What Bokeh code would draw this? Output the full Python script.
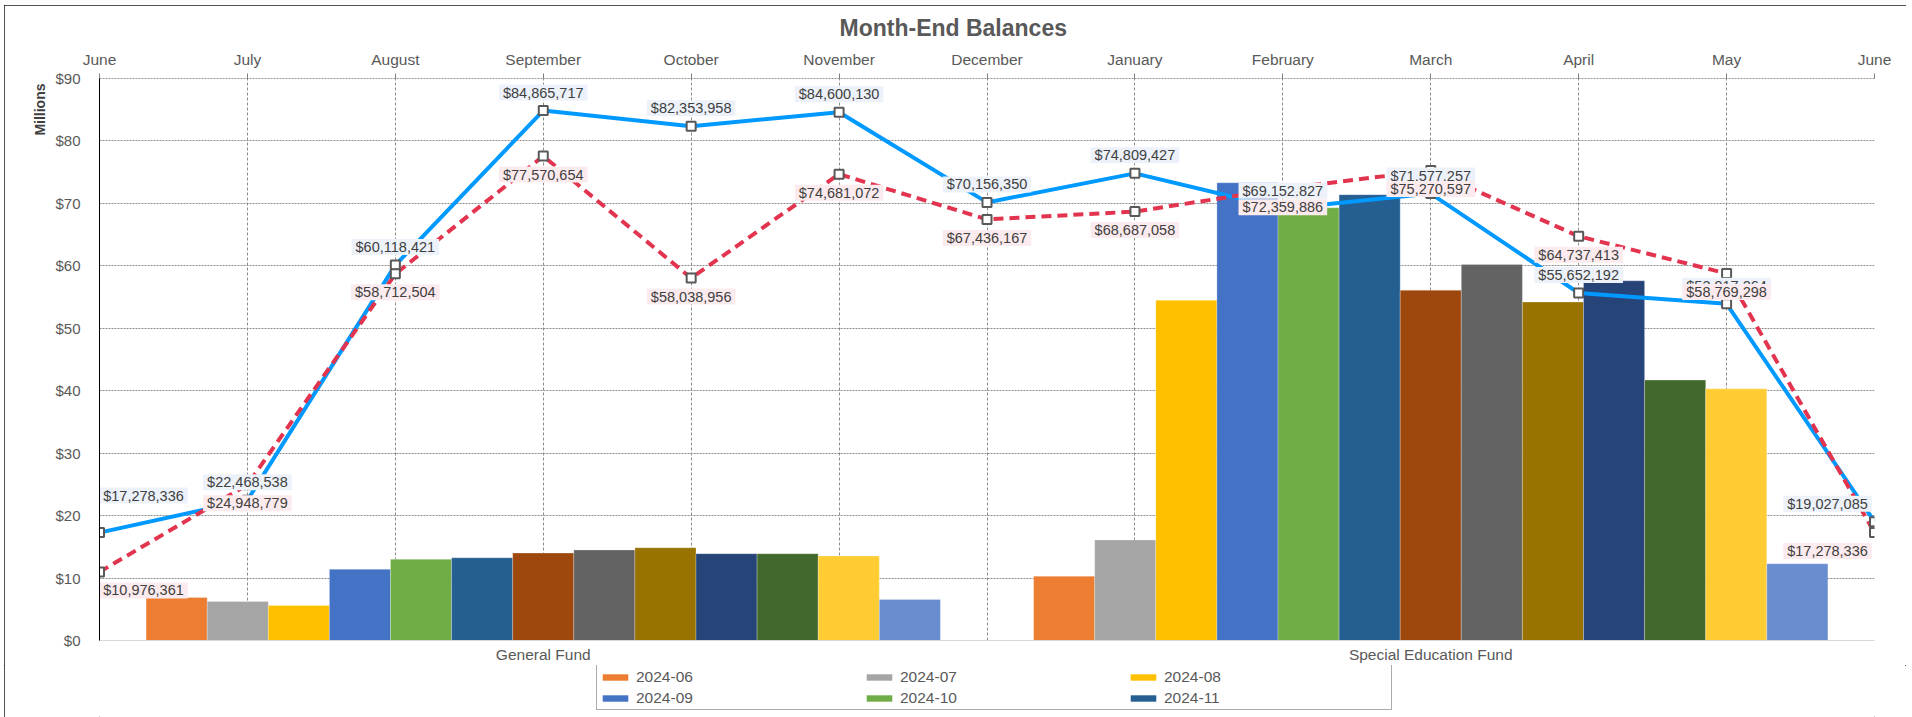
from bokeh.plotting import figure
from bokeh.layouts import column
from bokeh.models import (Range1d, LinearAxis, FixedTicker,
                          NumeralTickFormatter, ColumnDataSource, LabelSet, Legend,
                          LegendItem, Span, Title)
from bokeh.transform import dodge
from bokeh.embed import file_html
from bokeh.resources import INLINE
from bokeh.core.properties import value

# ---------------- data ----------------
months = ["June", "July", "August", "September", "October", "November", "December",
          "January", "February", "March", "April", "May", "June"]
funds = ["General Fund", "Special Education Fund"]
bar_months = ["2024-06", "2024-07", "2024-08", "2024-09", "2024-10", "2024-11", "2024-12",
              "2025-01", "2025-02", "2025-03", "2025-04", "2025-05", "2025-06"]
# month-end balances per fund, in $ millions
general_fund = [6.9, 6.25, 5.6, 11.4, 13.0, 13.25, 14.0, 14.5, 14.85, 13.9, 13.9, 13.55, 6.57]
special_ed = [10.3, 16.1, 54.5, 73.3, 69.3, 71.4, 56.1, 60.2, 54.2, 57.6, 41.7, 40.3, 12.3]

blue_balance = [17278336, 22468538, 60118421, 84865717, 82353958, 84600130, 70156350,
                74809427, 69152827, 71577257, 55652192, 53917264, 19027085]
red_balance = [10976361, 24948779, 58712504, 77570654, 58038956, 74681072, 67436167,
               68687058, 72359886, 75270597, 64737413, 58769298, 17278336]
blue_labels = ["$17,278,336", "$22,468,538", "$60,118,421", "$84,865,717", "$82,353,958",
               "$84,600,130", "$70,156,350", "$74,809,427", "$69.152.827", "$71,577,257",
               "$55,652,192", "$53,917,264", "$19,027,085"]
red_labels = ["$10,976,361", "$24,948,779", "$58,712,504", "$77,570,654", "$58,038,956",
              "$74,681,072", "$67,436,167", "$68,687,058", "$72,359,886", "$75,270,597",
              "$64,737,413", "$58,769,298", "$17,278,336"]
legend_months = bar_months[:6]

# ---------------- styles ----------------
FONT = "Liberation Sans"
GRAY = "#595959"
bar_colors = ["#ED7D31", "#A5A5A5", "#FFC000", "#4472C4", "#70AD47", "#255E91", "#9E480E",
              "#636363", "#997300", "#264478", "#43682B", "#FFCD33", "#698ED0"]
W = 1902

p = figure(width=W, height=660, output_backend="svg", toolbar_location=None,
           x_range=Range1d(0, 12), y_range=Range1d(0, 90), x_axis_location="above",
           min_border_left=95, min_border_right=32, min_border_top=73, min_border_bottom=25)
p.outline_line_color = None
p.background_fill_color = "white"

p.title.text = "Month-End Balances"
p.title.align = "left"
p.title.offset = 740
p.title.standoff = 13
p.title.text_font = FONT
p.title.text_font_size = "23px"
p.title.text_font_style = "bold"
p.title.text_color = GRAY

# top month axis
ax = p.xaxis[0]
ax.ticker = FixedTicker(ticks=list(range(len(months))))
ax.major_label_overrides = {i: m for i, m in enumerate(months)}
ax.axis_line_color = None
ax.major_tick_out = 5
ax.major_tick_in = 0
ax.major_tick_line_color = "#7f7f7f"
ax.minor_tick_line_color = None
ax.major_label_standoff = 6
ax.major_label_text_font = FONT
ax.major_label_text_font_size = "15.5px"
ax.major_label_text_color = GRAY

# left axis
ay = p.yaxis[0]
ay.ticker = FixedTicker(ticks=list(range(0, 91, 10)))
ay.formatter = NumeralTickFormatter(format="$0")
ay.axis_line_color = "black"
ay.major_tick_out = 0
ay.major_tick_in = 0
ay.minor_tick_line_color = None
ay.major_label_standoff = 19
ay.major_label_text_font = FONT
ay.major_label_text_font_size = "15px"
ay.major_label_text_color = GRAY

p.add_layout(Title(text="Millions", align="right", offset=5, text_font=FONT,
                   text_font_size="14px", text_font_style="bold", text_color="#404040"),
             "left")

p.xgrid.grid_line_color = "#8c8c8c"
p.xgrid.grid_line_dash = "3 2"
p.ygrid.grid_line_color = "#8c8c8c"
p.ygrid.grid_line_dash = "2 1"
p.add_layout(Span(location=90, dimension="width", line_color="#333333", line_dash="2 1",
                  line_width=1))

# fund axis (one unit per fund)
fund_pos = [i + 0.5 for i in range(len(funds))]
p.extra_x_ranges = {"funds": Range1d(0, len(funds))}
cax = LinearAxis(x_range_name="funds")
cax.ticker = FixedTicker(ticks=fund_pos)
cax.major_label_overrides = {fp: f for fp, f in zip(fund_pos, funds)}
cax.axis_line_color = "#d9d9d9"
cax.major_tick_out = 0
cax.major_tick_in = 0
cax.major_tick_line_color = None
cax.minor_tick_line_color = None
cax.major_label_standoff = 5
cax.major_label_text_font = FONT
cax.major_label_text_font_size = "15.5px"
cax.major_label_text_color = GRAY
p.add_layout(cax, "below")

# bars
bar_src = ColumnDataSource(dict(fund=fund_pos, **{m: [g, s] for m, g, s in
                                                  zip(bar_months, general_fund, special_ed)}))
n = len(bar_months)
bar_w = 0.895 / n
for i, m in enumerate(bar_months):
    p.vbar(x=dodge("fund", (i - (n - 1) / 2) * bar_w),
           top=m, width=bar_w, source=bar_src, x_range_name="funds",
           fill_color=bar_colors[i], line_color="white", line_alpha=0.5, line_width=0.5)

# lines
xs = list(range(len(months)))
blue_y = [v / 1e6 for v in blue_balance]
red_y = [v / 1e6 for v in red_balance]
edge_x = [0] * len(xs)
edge_x[0] = 44      # keep the edge labels inside the plotting frame
edge_x[-1] = -47
blue_src = ColumnDataSource(dict(x=xs, y=blue_y, label=blue_labels, xo=edge_x,
                                 yo=[-37] + [-18] * (len(xs) - 1)))
red_src = ColumnDataSource(dict(x=xs, y=red_y, label=red_labels, xo=edge_x,
                                yo=[18.5] * len(xs)))

p.line("x", "y", source=blue_src, line_color="#0099FF", line_width=4)
p.line("x", "y", source=red_src, line_color="#E3344F", line_width=4, line_dash="10 6")
for s in (blue_src, red_src):
    p.scatter("x", "y", source=s, marker="square", size=9, fill_color="white",
              line_color=GRAY, line_width=2)

for s, bg in ((blue_src, "#EDF2FA"), (red_src, "#FCEBEE")):
    common = dict(x="x", y="y", text="label", source=s, x_offset="xo", y_offset="yo",
                  text_align="center", text_baseline="middle", text_font=value(FONT),
                  text_font_size="14.5px", text_color="#404040")
    done = False
    for pad in (dict(left=4, right=4, top=0, bottom=0), 3):
        try:
            p.text(background_fill_color=bg, background_fill_alpha=1.0, padding=pad, **common)
            done = True
            break
        except Exception:
            pass
    if not done:
        c2 = dict(common)
        c2.pop("source")
        s2 = ColumnDataSource(dict(s.data))
        s2.data["yo2"] = [-v for v in s.data["yo"]]
        c2["y_offset"] = "yo2"
        p.add_layout(LabelSet(source=s2, background_fill_color=bg,
                              background_fill_alpha=1.0, **c2))

# legend strip (only the first six months are listed, as in the reference)
lg = figure(width=W, height=52, output_backend="svg", toolbar_location=None,
            x_axis_location=None, y_axis_location=None, min_border=0,
            x_range=Range1d(0, 1), y_range=Range1d(0, 1))
lg.outline_line_color = None
lg.grid.visible = False
items = []
for i, m in enumerate(legend_months):
    r = lg.vbar(x=[0.5], top=[0], bottom=[0], width=0.01, fill_color=bar_colors[i],
                line_color=None)
    items.append(LegendItem(label=m, renderers=[r]))
legend = Legend(items=items, orientation="horizontal", ncols=3, location=(497, 7),
                glyph_width=32, glyph_height=8, label_standoff=5, label_width=225,
                label_height=19, spacing=2, padding=2, margin=0,
                label_text_font=FONT, label_text_font_size="15.5px", label_text_color=GRAY,
                border_line_color=GRAY, border_line_width=1, background_fill_alpha=1)
lg.add_layout(legend)

page = column(p, lg, spacing=0,
              styles={"position": "relative", "left": "4px", "top": "5px",
                      "outline": "1.5px solid #1a1a1a", "outline-offset": "-1.5px"})

open("out.html", "w").write(file_html(page, INLINE))
